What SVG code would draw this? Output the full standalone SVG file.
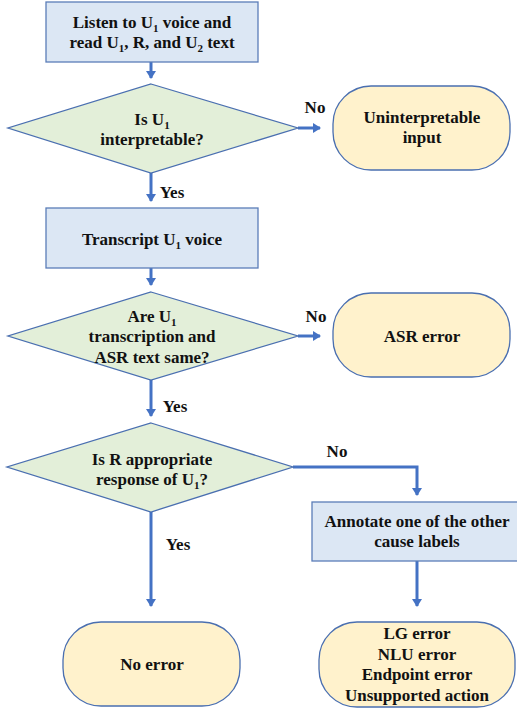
<svg xmlns="http://www.w3.org/2000/svg" width="517" height="708" viewBox="0 0 517 708">
<style>
text{font-family:"Liberation Serif","Times New Roman",serif;font-weight:bold;font-size:17px;fill:#111;text-anchor:middle}
.sub{font-size:11px}
.proc{fill:#dce7f4;stroke:#5b7db8;stroke-width:1.3}
.dec{fill:#e3efd9;stroke:#4a6fb0;stroke-width:1.3}
.term{fill:#fff2cc;stroke:#4a6fb0;stroke-width:1.3}
.conn{fill:none;stroke:#4472c4;stroke-width:3}
</style>
<defs>
<marker id="arr" markerWidth="10" markerHeight="10" refX="7" refY="5" orient="auto" markerUnits="userSpaceOnUse">
<path d="M0,0 L8,5 L0,10 z" fill="#4472c4"/>
</marker>
</defs>
<rect width="517" height="708" fill="#fff"/>
<g id="connectors">
<path class="conn" d="M151,62 V78" marker-end="url(#arr)"/>
<path class="conn" d="M298,128 H320" marker-end="url(#arr)"/>
<path class="conn" d="M151,173 V201" marker-end="url(#arr)"/>
<path class="conn" d="M151,268 V285" marker-end="url(#arr)"/>
<path class="conn" d="M298,336 H320" marker-end="url(#arr)"/>
<path class="conn" d="M151,380 V416" marker-end="url(#arr)"/>
<path class="conn" d="M293,467 H417 V495" marker-end="url(#arr)"/>
<path class="conn" d="M151,512 V606" marker-end="url(#arr)"/>
<path class="conn" d="M417,561 V606" marker-end="url(#arr)"/>
<text x="315" y="113">No</text>
<text x="172" y="198">Yes</text>
<text x="316" y="322">No</text>
<text x="175" y="412">Yes</text>
<text x="337" y="457">No</text>
<text x="178" y="550">Yes</text>
</g>
<g id="start">
<rect class="proc" x="46" y="2" width="212" height="60"/>
<text x="152" y="28">Listen to U<tspan class="sub" dy="4">1</tspan><tspan dy="-4"> voice and</tspan></text>
<text x="152" y="48">read U<tspan class="sub" dy="4">1</tspan><tspan dy="-4">, R, and U</tspan><tspan class="sub" dy="4">2</tspan><tspan dy="-4"> text</tspan></text>
</g>
<g id="dec1">
<polygon class="dec" points="151,84 298,128 151,173 8,128"/>
<text x="152" y="125">Is U<tspan class="sub" dy="4">1</tspan></text>
<text x="152" y="145">interpretable?</text>
</g>
<g id="uninterp">
<rect class="term" x="333" y="86" width="177" height="84" rx="38" ry="38"/>
<text x="422" y="123">Uninterpretable</text>
<text x="422" y="143">input</text>
</g>
<g id="transcript">
<rect class="proc" x="46" y="208" width="212" height="60"/>
<text x="152" y="245">Transcript U<tspan class="sub" dy="4">1</tspan><tspan dy="-4"> voice</tspan></text>
</g>
<g id="dec2">
<polygon class="dec" points="151,292 298,336 151,380 8,336"/>
<text x="152" y="322">Are U<tspan class="sub" dy="4">1</tspan></text>
<text x="152" y="342">transcription and</text>
<text x="152" y="363">ASR text same?</text>
</g>
<g id="asr">
<rect class="term" x="333" y="293" width="177" height="84" rx="38" ry="38"/>
<text x="422" y="342">ASR error</text>
</g>
<g id="dec3">
<polygon class="dec" points="151,423 293,467 151,512 7,467"/>
<text x="152" y="465">Is R appropriate</text>
<text x="152" y="485">response of U<tspan class="sub" dy="4">1</tspan><tspan dy="-4">?</tspan></text>
</g>
<g id="annotate">
<rect class="proc" x="312" y="502" width="210" height="59"/>
<text x="417" y="527">Annotate one of the other</text>
<text x="417" y="547">cause labels</text>
</g>
<g id="noerror">
<rect class="term" x="63" y="622" width="177" height="84" rx="38" ry="38"/>
<text x="152" y="670">No error</text>
</g>
<g id="causes">
<rect class="term" x="319" y="622" width="196" height="85" rx="38" ry="38"/>
<text x="417" y="639">LG error</text>
<text x="417" y="660">NLU error</text>
<text x="417" y="680">Endpoint error</text>
<text x="417" y="701">Unsupported action</text>
</g>
</svg>
